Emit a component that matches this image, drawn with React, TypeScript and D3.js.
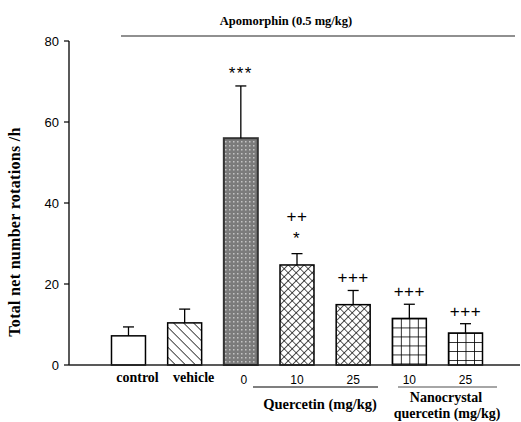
import React from "react";
import * as d3 from "d3";

const categories = ["control", "vehicle", "q0", "q10", "q25", "n10", "n25"];
const tickLabels = ["control", "vehicle", "0", "10", "25", "10", "25"];
const means = [7.2, 10.4, 56.0, 24.7, 14.9, 11.5, 7.9];
const errTops = [9.4, 13.8, 68.9, 27.5, 18.4, 15.0, 10.2];
const fills = ["white", "stripe", "dots", "cross", "cross", "grid", "grid"];
const annotations: string[][] = [[], [], ["***"], ["*", "++"], ["+++"], ["+++"], ["+++"]];
const yTicks = [0, 20, 40, 60, 80];

const W = 521;
const H = 422;

export default function App() {
  const y = d3.scaleLinear().domain([0, 80]).range([365, 41]);
  const x = d3
    .scaleBand<string>()
    .domain(categories)
    .range([100.4, 493.6])
    .paddingInner(0.395)
    .paddingOuter(0.1975);
  const bw = x.bandwidth();
  const serif = "'Liberation Serif', 'Times New Roman', serif";
  const sans = "'Liberation Sans', Arial, sans-serif";

  const fillFor = (f: string, i: number) => {
    if (f === "white") return "white";
    if (f === "stripe") return "url(#stripe)";
    if (f === "dots") return "url(#dots)";
    if (f === "cross") return "url(#cross)";
    return `url(#grid${i})`;
  };

  return (
    <div style={{ position: "absolute", left: 0, top: 0 }}>
      <svg width={W} height={H} style={{ display: "block", background: "white" }}>
        <defs>
          <pattern id="stripe" patternUnits="userSpaceOnUse" width={7.07} height={7.07} patternTransform="rotate(-45)">
            <rect width={7.07} height={7.07} fill="white" />
            <line x1={0} y1={0} x2={0} y2={7.07} stroke="black" strokeWidth={1.4} />
          </pattern>
          <pattern id="dots" patternUnits="userSpaceOnUse" width={4} height={4}>
            <rect width={4} height={4} fill="#7b7b7b" />
            <rect x={1} y={1} width={1.5} height={1.5} fill="#c4c4c4" />
          </pattern>
          <pattern id="cross" patternUnits="userSpaceOnUse" width={5.66} height={5.66} patternTransform="rotate(45)">
            <rect width={5.66} height={5.66} fill="white" />
            <line x1={0} y1={0} x2={0} y2={5.66} stroke="black" strokeWidth={1.3} />
            <line x1={0} y1={0} x2={5.66} y2={0} stroke="black" strokeWidth={1.3} />
          </pattern>
          {categories.map((c, i) =>
            fills[i] === "grid" ? (
              <pattern
                key={c}
                id={`grid${i}`}
                patternUnits="userSpaceOnUse"
                x={x(c)!}
                y={y(means[i])}
                width={bw / 4}
                height={9}
              >
                <rect width={bw / 4} height={9} fill="white" />
                <line x1={0} y1={0} x2={0} y2={9} stroke="black" strokeWidth={1.6} />
                <line x1={0} y1={0} x2={bw / 4} y2={0} stroke="black" strokeWidth={1.6} />
              </pattern>
            ) : null
          )}
        </defs>

        {/* Apomorphin header */}
        <text x={286} y={25} textAnchor="middle" fontFamily={serif} fontWeight="bold" fontSize={12.5}>
          Apomorphin (0.5 mg/kg)
        </text>
        <line x1={121} x2={515} y1={36} y2={36} stroke="#222" strokeWidth={1.2} />

        {/* y axis */}
        <line x1={69} x2={69} y1={y(80)} y2={y(0)} stroke="black" strokeWidth={1.3} />
        {yTicks.map((t) => (
          <g key={t}>
            <line x1={64} x2={69} y1={y(t)} y2={y(t)} stroke="black" strokeWidth={1.2} />
            <text x={59} y={y(t)} dy="0.35em" textAnchor="end" fontFamily={sans} fontSize={13}>
              {t}
            </text>
          </g>
        ))}
        <text
          transform={`translate(20, 232) rotate(-90)`}
          textAnchor="middle"
          fontFamily={serif}
          fontWeight="bold"
          fontSize={16}
          letterSpacing={0.3}
        >
          Total net number rotations /h
        </text>

        {/* bars */}
        {categories.map((c, i) => {
          const bx = x(c)!;
          const cx = bx + bw / 2;
          const top = y(means[i]);
          const et = y(errTops[i]);
          return (
            <g key={c}>
              <rect
                x={bx}
                y={top}
                width={bw}
                height={y(0) - top}
                fill={fillFor(fills[i], i)}
                stroke={fills[i] === "dots" ? "#333" : "black"}
                strokeWidth={fills[i] === "dots" ? 2 : 1.5}
              />
              <line x1={cx} x2={cx} y1={top} y2={et} stroke="black" strokeWidth={1.3} />
              <line x1={cx - 5.5} x2={cx + 5.5} y1={et} y2={et} stroke="black" strokeWidth={1.3} />
              {annotations[i].map((a, k) => (
                <text
                  key={k}
                  x={cx}
                  y={et - (a.startsWith("*") && a.length === 1 ? 10 : 7) - k * 25}
                  textAnchor="middle"
                  fontFamily={sans}
                  fontSize={17}
                  letterSpacing={a.startsWith("*") ? 1.5 : 0.5}
                >
                  {a}
                </text>
              ))}
            </g>
          );
        })}

        {/* x axis */}
        <line x1={69} x2={520} y1={y(0)} y2={y(0)} stroke="#222" strokeWidth={1.5} />

        {/* tick labels */}
        {categories.map((c, i) => {
          const cx = x(c)! + bw / 2;
          const isWord = i < 2;
          return (
            <text
              key={c}
              x={isWord ? cx + 9 : cx + (i === 2 ? 3 : 0)}
              y={isWord ? 382 : 384}
              textAnchor="middle"
              fontFamily={isWord ? serif : sans}
              fontWeight={isWord ? "bold" : "normal"}
              fontSize={isWord ? 14 : 12}
            >
              {tickLabels[i]}
            </text>
          );
        })}

        {/* group labels */}
        <line x1={253} x2={378} y1={387} y2={387} stroke="black" strokeWidth={1.2} />
        <line x1={398} x2={497} y1={387} y2={387} stroke="#888" strokeWidth={1.5} />
        <text x={320} y={409} textAnchor="middle" fontFamily={serif} fontWeight="bold" fontSize={14.5}>
          Quercetin (mg/kg)
        </text>
        <text x={446} y={402} textAnchor="middle" fontFamily={serif} fontWeight="bold" fontSize={14}>
          Nanocrystal
        </text>
        <text x={447} y={418} textAnchor="middle" fontFamily={serif} fontWeight="bold" fontSize={14}>
          quercetin (mg/kg)
        </text>
      </svg>
    </div>
  );
}
